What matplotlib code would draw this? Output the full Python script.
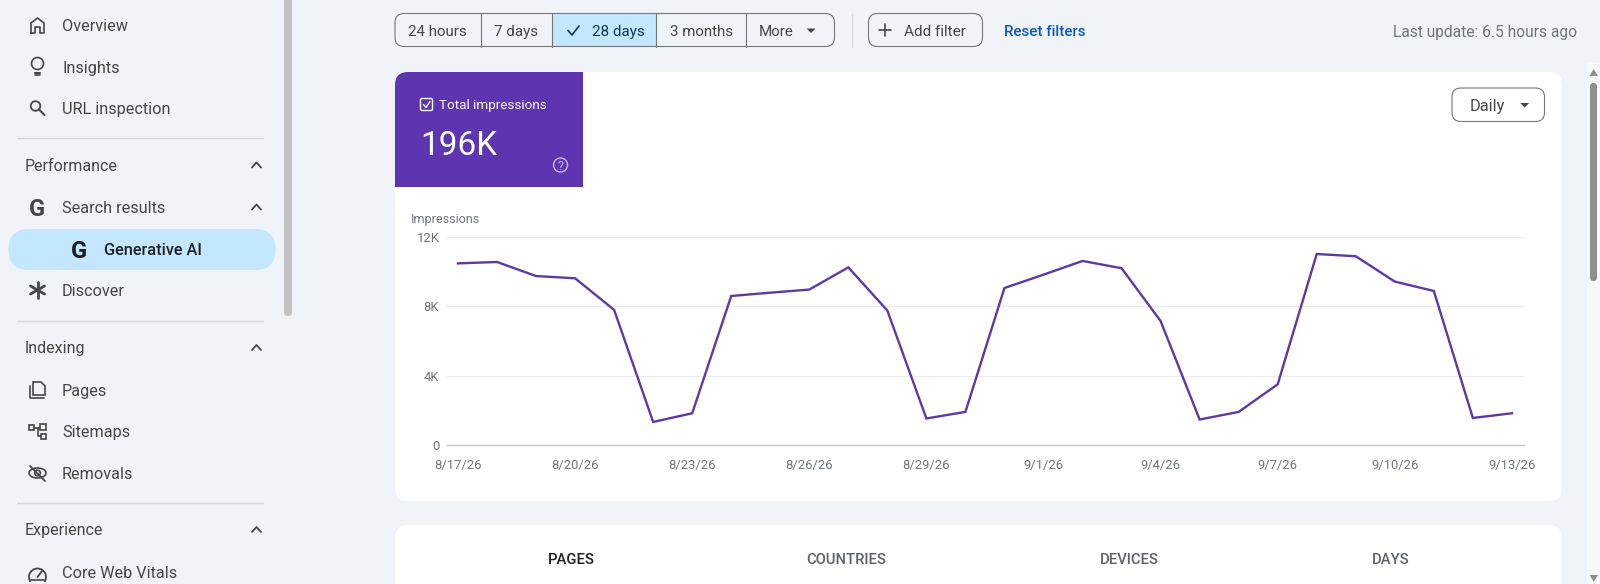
import pandas as pd
import matplotlib
matplotlib.use('Agg')
import matplotlib.pyplot as plt
from matplotlib.patches import FancyBboxPatch, Rectangle, Circle, Ellipse, Arc, Polygon

plt.rcParams['font.family'] = ['Roboto', 'DejaVu Sans']

# данные графика
start_date = '2026-08-17'
impressions = [10480, 10560, 9750, 9620, 7800, 1340, 1840, 8600, 8790, 8970,
               10250, 7760, 1540, 1920, 9060, 9830, 10620, 10200, 7160, 1480,
               1920, 3510, 11020, 10890, 9430, 8890, 1570, 1840]
y_ticks = [0, 4000, 8000, 12000]
y_tick_labels = ['0', '4K', '8K', '12K']
x_tick_step = 3
total_label = '196K'

# тексты интерфейса
range_buttons = ['24 hours', '7 days', '28 days', '3 months', 'More']
tabs = ['PAGES', 'COUNTRIES', 'DEVICES', 'DAYS']

BG = '#f0f4f9'
PURPLE = '#5e35b1'
LINE = '#5c39a6'
TEXT = '#444746'
GREY = '#70757a'
BORDER = '#747775'

W, H = 1600, 584
fig = plt.figure(figsize=(W / 100, H / 100), dpi=100, facecolor=BG)

# фоновая ось в пикселях для интерфейса
ui = fig.add_axes([0, 0, 1, 1])
ui.set_xlim(0, W)
ui.set_ylim(H, 0)
ui.axis('off')


def box(x0, y0, x1, y1, r, fc='none', ec='none', lw=1.0, z=1):
    p = FancyBboxPatch((x0 + r, y0 + r), x1 - x0 - 2 * r, y1 - y0 - 2 * r,
                       boxstyle='round,pad=%f,rounding_size=%f' % (r, r),
                       fc=fc, ec=ec, lw=lw, zorder=z)
    ui.add_patch(p)
    return p


def label(x, y, s, size=11.7, color=TEXT, ha='left', weight='normal'):
    ui.text(x, y, s, fontsize=size, color=color, ha=ha, va='center_baseline',
            fontweight=weight, zorder=5)


def line(xs, ys, color=TEXT, lw=1.2, z=5):
    ui.plot(xs, ys, color=color, lw=lw, zorder=z, solid_capstyle='round')


def chevron(x, y):
    line([x - 4.5, x, x + 4.5], [y + 2.5, y - 2.5, y + 2.5], lw=1.3)


def caret(x, y, color=TEXT):
    ui.add_patch(Polygon([(x - 4.5, y - 2), (x + 4.5, y - 2), (x, y + 2.5)], fc=color, ec='none', zorder=5))


# карточки
card = box(395, 72, 1562, 501, 13, fc='white')
box(395, 525, 1562, 620, 13, fc='white')
purple = Rectangle((395, 72), 188, 115, fc=PURPLE, ec='none', zorder=2)
ui.add_patch(purple)
purple.set_clip_path(card)

# боковое меню
items = [('Overview', 25), ('Insights', 66.7), ('URL inspection', 108), ('Search results', 206.7),
         ('Discover', 290), ('Pages', 389.7), ('Sitemaps', 431), ('Removals', 473), ('Core Web Vitals', 572)]
for name, y in items:
    label(62, y, name)
for name, y in [('Performance', 165), ('Indexing', 347.5), ('Experience', 529.5)]:
    label(25, y, name, size=11.5)
    chevron(256.5, y)
chevron(256.5, 207)
for y in [138, 320.5, 503]:
    line([17, 263], [y, y], color='#d3d6da', lw=1, z=2)
box(8.5, 229, 275.5, 270, 20.5, fc='#c2e7ff')
label(104, 248.7, 'Generative AI', color='#1f1f1f', weight='medium')
label(37, 206.5, 'G', size=17, ha='center', weight='bold')
label(79, 248.5, 'G', size=17, color='#1f1f1f', ha='center', weight='bold')
box(284, -10, 292, 316, 3.5, fc='#c4c4c4')

# значки меню
line([31, 31, 37.5, 44, 44, 40, 40, 35, 35, 31], [33, 23, 18, 23, 33, 33, 27, 27, 33, 33])
ui.add_patch(Circle((37.5, 63.5), 6, fc='none', ec=TEXT, lw=1.2, zorder=5))
line([35, 40], [72.5, 72.5], lw=1.5)
line([35, 40], [75, 75], lw=1.2)
ui.add_patch(Circle((35.5, 106), 4.8, fc='none', ec=TEXT, lw=1.3, zorder=5))
line([39, 44.5], [109.5, 115], lw=1.5)
for dx, dy in [(0, 8), (7, 4), (7, -4)]:
    line([37.5 - dx, 37.5 + dx], [290 - dy, 290 + dy], lw=2)
line([29.5, 29.5, 41, 44], [386, 398, 398, 398])
ui.add_patch(Polygon([(33, 382), (41, 382), (45, 386), (45, 395), (33, 395)], fc='none', ec=TEXT, lw=1.2, zorder=5))
for x0, y0, s in [(29, 425, 5), (40, 424, 6), (41, 434, 5)]:
    ui.add_patch(Rectangle((x0, y0), s, s, fc='none', ec=TEXT, lw=1.2, zorder=5))
line([34, 40], [428, 428])
line([38, 38, 41], [428, 436, 436])
ui.add_patch(Ellipse((37.5, 473), 17, 10, fc='none', ec=TEXT, lw=1.2, zorder=5))
ui.add_patch(Circle((37.5, 473), 2.8, fc='none', ec=TEXT, lw=1.2, zorder=5))
line([30, 45], [466, 481], lw=1.3)
ui.add_patch(Arc((37.5, 577), 17, 17, theta1=145, theta2=35, ec=TEXT, lw=1.3, zorder=5))
line([37.5, 42], [577, 571], lw=1.3)
line([31, 44], [579.5, 579.5], lw=1.2)

# кнопки периода
dividers = [481, 552.3, 656.3, 745.6]
selected = Rectangle((552.3, 13.5), 104, 33, fc='#c2e7ff', ec='none', zorder=2)
ui.add_patch(selected)
box(395, 13.5, 834.5, 46.5, 9, ec=BORDER, lw=0.8, z=3)
for x in dividers:
    line([x, x], [13.5, 46.5], color=BORDER, lw=0.8, z=3)
for x, s in zip([437.5, 516, 618, 702, 776], range_buttons):
    label(x, 30.5, s, size=10.9, color='#0b3a56' if s == '28 days' else TEXT, ha='center')
line([568, 572, 579], [30.5, 35, 26], color='#0b3a56', lw=1.2)
caret(811, 30.5)
line([851.5, 851.5], [13.5, 46.5], color='#d8dbe0', lw=1)
box(868.5, 13.5, 982.5, 46.5, 9, ec=BORDER, lw=0.8, z=3)
line([879, 891], [30, 30], lw=1.2)
line([885, 885], [24, 36], lw=1.2)
label(935, 30.5, 'Add filter', size=11, ha='center')
label(1004, 30.5, 'Reset filters', size=10.9, color='#0b57d0', weight='medium')
label(1577, 30.5, 'Last update: 6.5 hours ago', size=11.2, color=GREY, ha='right')

# кнопка Daily
box(1452, 88, 1544.5, 121.5, 9, ec=BORDER, lw=0.8, z=3)
label(1470, 105, 'Daily', size=11.8)
caret(1524.7, 105)

# плашка с итогом
ui.add_patch(FancyBboxPatch((420.5, 98.5), 12, 12, boxstyle='round,pad=0,rounding_size=1.5', fc='none', ec='white', lw=1, zorder=5))
line([423.5, 426, 430], [104.5, 107.5, 101.5], color='white', lw=1)
label(439, 104.5, 'Total impressions', size=9.7, color='white')
label(420, 142.5, total_label, size=24, color='white')
ui.add_patch(Circle((560.5, 165), 7, fc='none', ec='#c8b8e6', lw=1, zorder=5))
label(560.5, 165.5, '?', size=9, color='#c8b8e6', ha='center')
label(411, 218.5, 'Impressions', size=9, color=GREY)

# вкладки
for x, s in zip([571, 846, 1129, 1391], tabs):
    label(x, 558.7, s, size=10.6, color='#202124' if s == 'PAGES' else '#5f6368', ha='center', weight='medium')

# правая полоса прокрутки
ui.add_patch(Rectangle((1587, 63), 13, 530, fc='#f8f8f8', ec='none', zorder=1))
box(1590, 83, 1597, 281, 3.5, fc='#8f8f8f')
ui.add_patch(Polygon([(1589.5, 76), (1598, 76), (1593.7, 69)], fc='#8f8f8f', ec='none', zorder=5))
ui.add_patch(Polygon([(1589.5, 575), (1598, 575), (1593.7, 582)], fc='#8f8f8f', ec='none', zorder=5))

# сам график
left, right, top, bottom = 445.5, 1524, 237, 445.2
ax = fig.add_axes([left / W, 1 - bottom / H, (right - left) / W, (bottom - top) / H])
ax.patch.set_alpha(0)
dates = pd.date_range(start_date, periods=len(impressions))
days = list(range(len(impressions)))
ax.plot(days, impressions, color=LINE, lw=1.7, solid_joinstyle='miter')
ax.set_xlim(-0.32, 27.31)
ax.set_ylim(0, 12000)
ax.set_yticks(y_ticks)
ax.set_yticklabels(y_tick_labels)
ax.set_xticks(days[::x_tick_step])
ax.set_xticklabels(['%d/%d/%s' % (d.month, d.day, d.strftime('%y')) for d in dates[::x_tick_step]])
ax.tick_params(length=0, labelsize=9.4, labelcolor=GREY)
ax.tick_params(axis='x', pad=10)
ax.tick_params(axis='y', pad=4.5)
ax.grid(axis='y', color='#ececec', lw=0.8)
ax.set_axisbelow(True)
for s in ['top', 'left', 'right']:
    ax.spines[s].set_visible(False)
ax.spines['bottom'].set_color('#c4c7c5')
ax.spines['bottom'].set_linewidth(1)

plt.savefig('out.png', dpi=100, facecolor=BG)
